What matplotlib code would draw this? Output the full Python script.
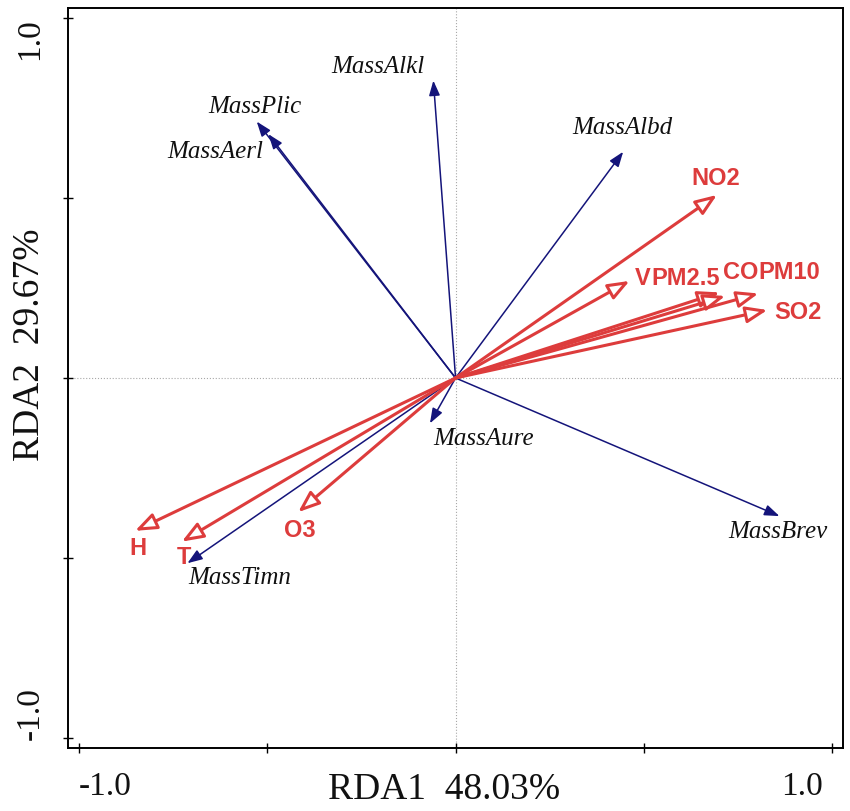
import matplotlib
matplotlib.use("Agg")
from matplotlib import pyplot as plt

# Scores de especies (flechas azules)
especies = ["MassAlkl", "MassPlic", "MassAerl", "MassAlbd", "MassBrev", "MassAure", "MassTimn"]
esp_x = [-0.059, -0.528, -0.497, 0.445, 0.860, -0.068, -0.712]
esp_y = [0.827, 0.713, 0.678, 0.629, -0.384, -0.126, -0.515]

# Variables ambientales (flechas rojas)
variables = ["NO2", "V", "PM2.5", "CO", "PM10", "SO2", "H", "T", "O3"]
var_x = [0.694, 0.462, 0.701, 0.716, 0.804, 0.828, -0.851, -0.727, -0.418]
var_y = [0.509, 0.270, 0.238, 0.228, 0.235, 0.189, -0.425, -0.455, -0.373]

eje_x = "RDA1  48.03%"
eje_y = "RDA2  29.67%"

# posiciones de las etiquetas (layout)
pos_esp = {
    "MassAlkl": (-0.206, 0.865), "MassPlic": (-0.533, 0.753), "MassAerl": (-0.639, 0.628),
    "MassAlbd": (0.442, 0.695), "MassBrev": (0.857, -0.427), "MassAure": (0.074, -0.170),
    "MassTimn": (-0.572, -0.556),
}
pos_var = {
    "NO2": (0.692, 0.556), "SO2": (0.910, 0.183), "H": (-0.843, -0.473),
    "T": (-0.721, -0.500), "O3": (-0.413, -0.423),
}

AZUL = "#14147a"
ROJO = "#dd3c3c"
W, H = 850, 811

fig = plt.figure(figsize=(W / 100, H / 100), dpi=100)
ax = fig.add_axes([67.7 / W, 1 - 747.7 / H, (842.7 - 67.7) / W, (747.7 - 8.3) / H])
ax.set_xlim(-1.030, 1.028)
ax.set_ylim(-1.028, 1.028)

ax.axhline(0, color="#a8a8a8", lw=0.8, ls=":", zorder=0)
ax.axvline(0, color="#a8a8a8", lw=0.8, ls=":", zorder=0)

for s in ax.spines.values():
    s.set_linewidth(1.4)
ax.set_xticks([-1, -0.5, 0, 0.5, 1])
ax.set_yticks([-1, -0.5, 0, 0.5, 1])
ax.set_xticklabels([])
ax.set_yticklabels([])
ax.tick_params(direction="inout", length=7, width=1.0)

# flechas de especies
for nombre, x, y in zip(especies, esp_x, esp_y):
    ax.annotate("", xy=(x, y), xytext=(0, 0),
                arrowprops=dict(arrowstyle="-|>,head_length=9,head_width=3.3",
                                mutation_scale=1, lw=1.1, ec=AZUL, fc=AZUL,
                                shrinkA=0, shrinkB=0))
    tx, ty = pos_esp[nombre]
    ax.text(tx, ty, nombre, family="Liberation Serif", style="italic", fontsize=18,
            ha="center", va="center", color="#111111")

# flechas ambientales
for nombre, x, y in zip(variables, var_x, var_y):
    ax.annotate("", xy=(x, y), xytext=(0, 0),
                arrowprops=dict(arrowstyle="-|>,head_length=13,head_width=5",
                                mutation_scale=1, lw=2.2, ec=ROJO, fc="white",
                                shrinkA=0, shrinkB=0))

fuente_var = dict(family="Liberation Sans", weight="bold", fontsize=17, color=ROJO)
for nombre, (tx, ty) in pos_var.items():
    ax.text(tx, ty, nombre, ha="center", va="center", **fuente_var)

# etiquetas pegadas: V + PM2.5, CO + PM10
t_v = ax.text(0.477, 0.278, "V", ha="left", va="center", **fuente_var)
ax.annotate("PM2.5", xy=(1, 0), xycoords=t_v, ha="left", va="bottom", **fuente_var)
t_co = ax.text(0.710, 0.292, "CO", ha="left", va="center", **fuente_var)
ax.annotate("PM10", xy=(1, 0), xycoords=t_co, ha="left", va="bottom", **fuente_var)

# etiquetas de ejes
serif = dict(family="Liberation Serif", color="#111111")
trans_x = ax.get_xaxis_transform()
ax.text(-1.0, -0.032, "-1.0", transform=trans_x, ha="left", va="top", fontsize=24, **serif)
ax.text(0.975, -0.032, "1.0", transform=trans_x, ha="right", va="top", fontsize=24, **serif)
fig.text(30 / W, 1 - 18.3 / H, "1.0", rotation=90, ha="center", va="top", fontsize=24, **serif)
fig.text(30 / W, 1 - 740 / H, "-1.0", rotation=90, ha="center", va="bottom", fontsize=24, **serif)

fig.text(444 / W, 1 - 790 / H, eje_x, ha="center", va="center", fontsize=27, **serif)
fig.text(30 / W, 1 - 345 / H, eje_y, rotation=90, ha="center", va="center", fontsize=27, **serif)

fig.savefig("out.png", dpi=100)
